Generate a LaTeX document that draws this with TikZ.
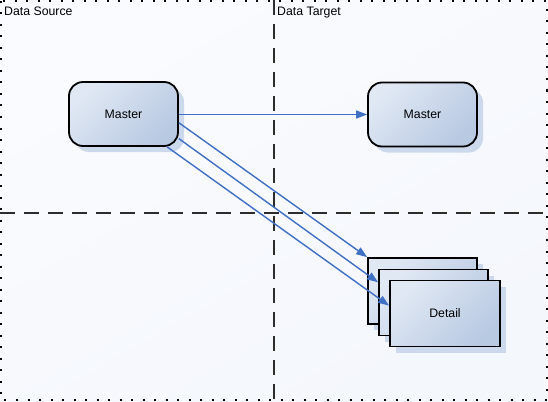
\documentclass[tikz,border=0pt]{standalone}
\usepackage{fontspec}
\setmainfont{Liberation Sans}
\usetikzlibrary{arrows.meta,shadows,calc}
\definecolor{bgc}{RGB}{244,247,252}
\definecolor{bgl}{RGB}{250,251,254}
\definecolor{boxl}{RGB}{224,232,244}
\definecolor{boxd}{RGB}{184,201,226}
\definecolor{shc}{RGB}{204,216,236}
\definecolor{arr}{RGB}{64,112,196}
\definecolor{dashc}{RGB}{45,45,45}
\tikzset{
  boxbase/.style={draw=black, line width=1.8pt, top color=boxl, bottom color=boxd, shading angle=45,
    general shadow={fill=shc, shadow xshift=6pt, shadow yshift=-6pt},
    font=\fontsize{12.3}{14}\selectfont, inner sep=0pt},
  masterbox/.style={boxbase, rounded corners=14pt, minimum width=109pt, minimum height=64pt},
  detailbox/.style={boxbase, minimum width=109pt, minimum height=66pt},
  sep/.style={draw=dashc, line width=2pt, dash pattern=on 15pt off 9pt},
  conn/.style={draw=arr, line width=1.4pt, -{Triangle[length=11pt,width=8pt]}},
  lbl/.style={font=\fontsize{12.3}{14}\selectfont, anchor=base west, inner sep=0pt}
}
\begin{document}
\begin{tikzpicture}[x=1pt,y=-1pt]
\useasboundingbox (0,0) rectangle (548,401);
\shade[top color=bgl, bottom color=bgc, shading angle=30] (0,0) rectangle (548,401);
% dotted border
\draw[line width=2pt, dash pattern=on 2pt off 9.5pt, black] (1,1) rectangle (547,400);
% separators
\coordinate (vt) at (274,0);
\coordinate (vb) at (274,401);
\coordinate (hl) at (0,213);
\coordinate (hr) at (548,213);
\draw[sep] (vt) -- (vb);
\draw[sep] (hl) -- (hr);
% labels
\node[lbl] (ds) at (4,16) {Data Source};
\node[lbl] (dt) at (277,16) {Data Target};
% nodes
\node[masterbox] (ms) at (123.5,114) {Master};
\node[masterbox] (mt) at (422.5,114.5) {Master};
\node[detailbox] (d1) at (422.5,291) {};
\node[detailbox] (d2) at (433.5,302.5) {};
\node[detailbox, minimum width=110pt] (d3) at (445,313.5) {Detail};
% connectors
\draw[conn] (ms.east |- mt.west) -- (mt.west);
\draw[conn] (ms.-9.5) -- (d1.north west);
\draw[conn] (ms.-24) -- (d2.160);
\draw[conn] (ms.-37) -- (d3.172.5);
\end{tikzpicture}
\end{document}
